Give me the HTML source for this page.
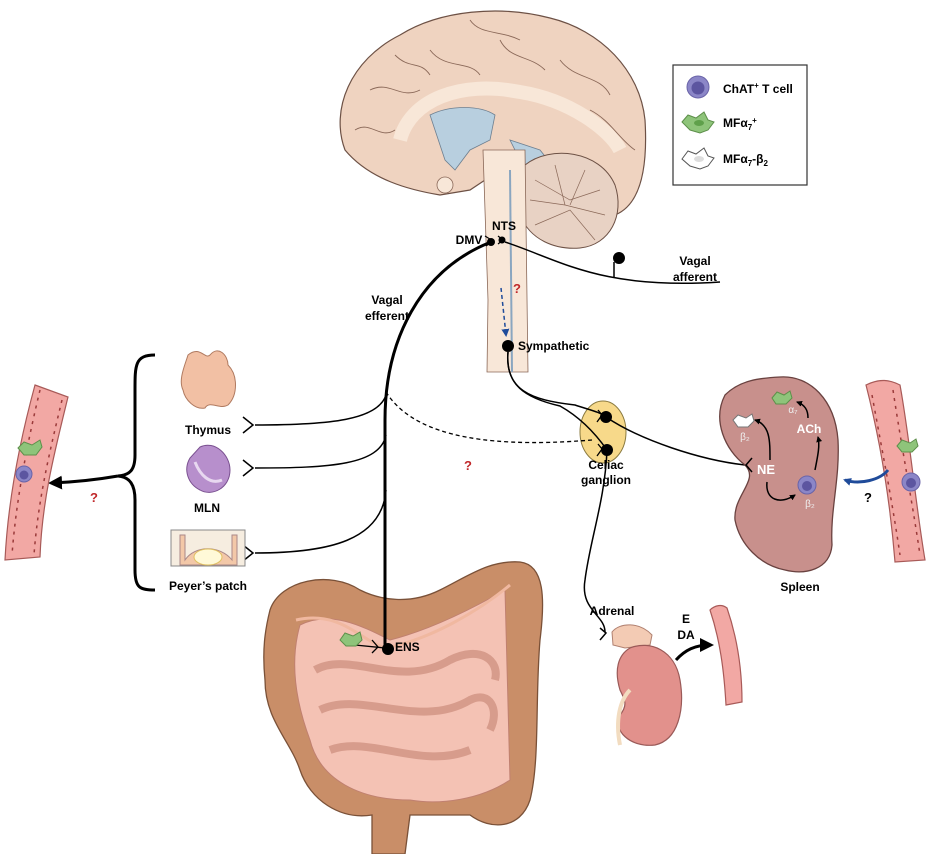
<!DOCTYPE html>
<html><head><meta charset="utf-8"><style>
html,body{margin:0;padding:0;background:#fff;}
svg{display:block;font-family:"Liberation Sans",Arial,sans-serif;font-weight:bold;}
</style></head><body>
<svg width="936" height="854" viewBox="0 0 936 854" xmlns="http://www.w3.org/2000/svg">
<defs>
<marker id="ahb" markerWidth="8" markerHeight="8" refX="6" refY="4" orient="auto" markerUnits="userSpaceOnUse"><path d="M0,0 L8,4 L0,8 Z" fill="#1f4b9a"/></marker>
<marker id="ahs" markerWidth="6" markerHeight="6" refX="5" refY="3" orient="auto" markerUnits="userSpaceOnUse"><path d="M0,0 L6,3 L0,6 Z" fill="#000"/></marker>
<marker id="ahL" markerWidth="14" markerHeight="14" refX="10" refY="7" orient="auto" markerUnits="userSpaceOnUse"><path d="M0,0 L14,7 L0,14 Z" fill="#000"/></marker>
</defs>

<!-- Brain -->
<path d="M345,150 C330,110 350,60 400,35 C440,10 500,5 550,18 C600,30 640,70 645,120 C648,170 640,205 615,215 C600,200 570,190 540,185 L500,170 L470,190 L440,195 C410,190 370,180 345,150 Z" fill="#efd3c0" stroke="#6d5145" stroke-width="1.2"/>
<path d="M400,140 C410,100 460,80 520,92 C570,100 610,130 620,150" fill="none" stroke="#f8e7d8" stroke-width="14"/>
<path d="M430,115 C450,105 480,105 495,115 L490,140 L470,150 L455,170 L445,160 C440,145 435,130 430,115 Z" fill="#b8cfdf" stroke="#6d7f90" stroke-width="0.8"/>
<path d="M510,140 L540,150 L560,175 L540,185 L520,160 Z" fill="#b8cfdf" stroke="#6d7f90" stroke-width="0.8"/>
<g fill="none" stroke="#8a6858" stroke-width="0.9">
<path d="M370,90 C390,80 400,100 420,90"/><path d="M430,50 C445,70 470,60 480,75"/><path d="M500,40 C510,60 530,55 545,70"/><path d="M560,60 C575,80 600,75 610,95"/><path d="M355,130 C370,120 380,140 395,130"/><path d="M590,110 C610,120 620,140 635,150"/><path d="M470,20 C480,35 500,30 520,40"/><path d="M395,55 C410,70 420,60 430,75"/>
</g>
<path d="M525,165 C550,145 600,150 615,185 C625,215 610,245 580,248 C555,250 530,240 520,215 C515,195 515,175 525,165 Z" fill="#e8d2c4" stroke="#6d5145" stroke-width="1"/>
<g fill="none" stroke="#8a6858" stroke-width="0.7">
<path d="M535,180 L570,200 L600,190"/><path d="M530,200 L565,205 L605,215"/><path d="M535,225 L570,210 L595,240"/><path d="M555,165 L565,205"/><path d="M585,170 L570,205"/>
</g>
<path d="M483,150 L525,150 L528,372 L487,372 L488,300 Z" fill="#f8e7d8" stroke="#8a6858" stroke-width="0.8"/>
<path d="M510,170 L512,372" stroke="#8aa6c0" stroke-width="2" fill="none"/>
<circle cx="445" cy="185" r="8" fill="#f8e7d8" stroke="#8a6858" stroke-width="0.8"/>

<!-- Legend -->
<rect x="673" y="65" width="134" height="120" fill="#fff" stroke="#333" stroke-width="1.2"/>
<circle cx="698" cy="87" r="11" fill="#8b86c7" stroke="#6a64a8"/><circle cx="698" cy="88" r="6.5" fill="#5c55a0"/>
<text x="723" y="93" font-size="12">ChAT<tspan font-size="8" dy="-5">+</tspan><tspan dy="5"> T cell</tspan></text>
<path d="M682,122 L688,115 L696,118 L704,112 L708,120 L714,122 L708,130 L700,133 L690,130 Z" fill="#8ec47a" stroke="#5d8f4a"/><ellipse cx="699" cy="123" rx="5" ry="3" fill="#5fa04b"/>
<text x="723" y="127" font-size="12">MFα<tspan font-size="8" dy="3">7</tspan><tspan font-size="8" dy="-7">+</tspan></text>
<path d="M682,159 L688,151 L696,154 L704,148 L708,156 L714,158 L708,166 L700,169 L690,166 Z" fill="#fff" stroke="#555"/><ellipse cx="699" cy="159" rx="5" ry="3" fill="#ddd"/>
<text x="723" y="163" font-size="12">MFα<tspan font-size="8" dy="3">7</tspan><tspan dy="-3">-β</tspan><tspan font-size="8" dy="3">2</tspan></text>

<!-- Intestine (drawn before nerves) -->
<path d="M270,610 C280,580 330,570 360,590 C380,600 410,605 440,590 C470,575 490,560 520,562 C545,565 545,600 540,640 C535,700 540,760 530,800 C520,830 490,830 470,815 L410,815 L405,854 L372,854 L372,815 C340,820 310,800 300,770 C290,740 265,720 265,680 C262,650 265,630 270,610 Z" fill="#c98e68" stroke="#7a5138" stroke-width="1.3"/>
<path d="M300,625 C330,610 360,625 390,640 C430,630 470,610 505,590 L510,780 C480,800 440,805 410,800 C360,800 320,780 310,740 C295,700 290,660 300,625 Z" fill="#f4c2b4" stroke="#c08070" stroke-width="1"/>
<g fill="none" stroke="#c58373" stroke-width="8" opacity="0.6">
<path d="M315,670 C350,650 400,690 450,660 C480,645 500,660 495,680"/>
<path d="M320,710 C360,690 420,730 470,700 C490,690 500,710 490,730"/>
<path d="M330,750 C370,735 420,770 470,750"/>
</g>
<path d="M296,620 C340,610 360,640 385,648 C430,640 480,610 510,585" fill="none" stroke="#f0b8a0" stroke-width="3"/>

<!-- nerves -->
<path d="M491,242 C420,270 385,340 385,420 L385,648" fill="none" stroke="#000" stroke-width="3"/>
<path d="M505,242 C560,260 600,290 720,282" fill="none" stroke="#000" stroke-width="1.5"/>
<path d="M614,278 L614,262" stroke="#000" stroke-width="1.5"/><circle cx="619" cy="258" r="6" fill="#000"/>
<circle cx="491" cy="242" r="4" fill="#000"/><circle cx="502" cy="240" r="3.5" fill="#000"/>
<path d="M485,236 L493,241 L486,246 M498,236 L503,240 L498,244" fill="none" stroke="#000" stroke-width="1.2"/>
<path d="M501,288 L506,335" fill="none" stroke="#1f4b9a" stroke-width="1.5" stroke-dasharray="4,3" marker-end="url(#ahb)"/>
<circle cx="508" cy="346" r="6" fill="#000"/>
<ellipse cx="603" cy="432" rx="23" ry="31" fill="#f7d98a" stroke="#8a7a40" stroke-width="1"/>
<path d="M508,352 C505,390 530,400 575,405 C590,410 600,412 606,417" fill="none" stroke="#000" stroke-width="1.5"/>
<path d="M508,352 C505,385 525,398 560,406 C585,420 600,440 607,450" fill="none" stroke="#000" stroke-width="1.5"/>
<circle cx="606" cy="417" r="6" fill="#000"/><circle cx="607" cy="450" r="6" fill="#000"/>
<path d="M598,410 L602,415 L597,422 M598,444 L602,449 L597,456" fill="none" stroke="#000" stroke-width="1.3"/>
<path d="M606,417 C640,440 700,460 745,465" fill="none" stroke="#000" stroke-width="1.5"/>
<path d="M607,450 C605,500 590,540 585,580 C580,610 605,615 605,632" fill="none" stroke="#000" stroke-width="1.5"/>
<path d="M600,628 L606,633 L600,640" fill="none" stroke="#000" stroke-width="1.5"/>
<path d="M386,392 C410,430 470,450 592,440" fill="none" stroke="#000" stroke-width="1.3" stroke-dasharray="4,3"/>
<path d="M386,395 C378,420 330,425 255,425" fill="none" stroke="#000" stroke-width="1.5"/>
<path d="M386,435 C380,465 330,468 255,468" fill="none" stroke="#000" stroke-width="1.5"/>
<path d="M386,490 C382,540 330,553 255,553" fill="none" stroke="#000" stroke-width="1.5"/>
<path d="M243,417 L253,425 L243,433 M243,460 L253,468 L243,476 M243,545 L253,553 L243,561" fill="none" stroke="#000" stroke-width="1.5"/>
<path d="M355,645 L385,648" stroke="#000" stroke-width="1.3"/><path d="M372,640 L378,647 L372,653" fill="none" stroke="#000" stroke-width="1.3"/>
<circle cx="388" cy="649" r="6" fill="#000"/>
<path d="M340,640 L345,633 L353,636 L360,632 L362,640 L356,646 L346,646 Z" fill="#8ec47a" stroke="#5d8f4a"/>
<text x="395" y="651" font-size="12">ENS</text>

<!-- Thymus -->
<path d="M188,355 C200,345 205,360 210,355 C218,345 228,355 228,365 C238,375 238,395 228,405 C220,410 210,400 205,408 C195,410 185,400 183,390 C178,380 185,365 188,355 Z" fill="#f2c0a4" stroke="#b07a60"/>
<text x="208" y="434" font-size="12" text-anchor="middle">Thymus</text>
<path d="M200,447 C215,440 230,455 230,470 C230,488 212,497 200,490 C188,484 183,470 190,458 Z" fill="#b78fcc" stroke="#7a5090"/>
<path d="M195,462 C200,475 210,485 222,480" fill="none" stroke="#e8d8f0" stroke-width="3"/>
<text x="207" y="512" font-size="12" text-anchor="middle">MLN</text>
<rect x="171" y="530" width="74" height="36" fill="#f6ede0" stroke="#888"/>
<path d="M180,565 L180,535 L185,535 L185,560 C195,545 220,545 232,560 L232,535 L237,535 L237,565 Z" fill="#f3c8a8" stroke="#a88"/>
<ellipse cx="208" cy="557" rx="14" ry="8" fill="#fff9d8" stroke="#e0c060"/>
<text x="208" y="590" font-size="12" text-anchor="middle">Peyer’s patch</text>

<!-- bracket -->
<path d="M155,355 C135,355 135,365 135,390 L135,455 C135,470 130,475 118,476 C130,477 135,485 135,500 L135,570 C135,588 140,590 155,590" fill="none" stroke="#000" stroke-width="3"/>
<path d="M118,476 C95,480 75,482 52,483" fill="none" stroke="#000" stroke-width="3" marker-end="url(#ahL)"/>
<text x="94" y="502" font-size="13" fill="#c0282a" text-anchor="middle">?</text>

<!-- left vessel -->
<path d="M35,385 L68,397 C55,450 42,500 40,557 L5,560 C8,500 20,440 35,385 Z" fill="#f2a8a4" stroke="#a85a58" stroke-width="1.2"/>
<path d="M40,390 C28,440 16,500 12,555 M62,400 C50,450 38,500 34,555" fill="none" stroke="#9a3a3a" stroke-width="1.5" stroke-dasharray="3,5"/>
<path d="M18,448 L24,442 L32,445 L40,440 L42,447 L36,455 L24,455 Z" fill="#8ec47a" stroke="#5d8f4a"/>
<circle cx="24" cy="474" r="8" fill="#8b86c7" stroke="#6a64a8"/><circle cx="24" cy="475" r="4.5" fill="#5c55a0"/>

<!-- labels -->
<text x="469" y="244" font-size="12" text-anchor="middle">DMV</text>
<text x="504" y="230" font-size="12" text-anchor="middle">NTS</text>
<text x="387" y="304" font-size="12" text-anchor="middle">Vagal</text>
<text x="387" y="320" font-size="12" text-anchor="middle">efferent</text>
<text x="695" y="265" font-size="12" text-anchor="middle">Vagal</text>
<text x="695" y="281" font-size="12" text-anchor="middle">afferent</text>
<text x="517" y="293" font-size="13" fill="#c0282a" text-anchor="middle">?</text>
<text x="518" y="350" font-size="12">Sympathetic</text>
<text x="468" y="470" font-size="13" fill="#c0282a" text-anchor="middle">?</text>
<text x="606" y="469" font-size="12" text-anchor="middle">Celiac</text>
<text x="606" y="484" font-size="12" text-anchor="middle">ganglion</text>

<!-- Spleen -->
<path d="M780,377 C810,375 835,400 838,440 C840,480 830,510 832,545 C830,570 805,575 785,570 C760,565 740,545 735,520 C733,495 760,480 745,465 C725,450 712,420 725,395 C740,380 760,378 780,377 Z" fill="#c8908c" stroke="#6a4240" stroke-width="1.3"/>
<path d="M752,458 L746,465 L752,472" fill="none" stroke="#000" stroke-width="1.5"/>
<text x="766" y="474" font-size="13" fill="#fff" text-anchor="middle">NE</text>
<path d="M770,460 C770,440 770,425 755,420" fill="none" stroke="#000" stroke-width="1.5" marker-end="url(#ahs)"/>
<path d="M767,482 C765,500 780,505 795,495" fill="none" stroke="#000" stroke-width="1.5" marker-end="url(#ahs)"/>
<circle cx="807" cy="485" r="9" fill="#8b86c7" stroke="#6a64a8"/><circle cx="807" cy="486" r="5" fill="#5c55a0"/>
<path d="M815,470 C818,455 820,445 818,437" fill="none" stroke="#000" stroke-width="1.5" marker-end="url(#ahs)"/>
<text x="809" y="433" font-size="12" fill="#fff" text-anchor="middle">ACh</text>
<path d="M808,418 C808,410 805,405 797,402" fill="none" stroke="#000" stroke-width="1.5" marker-end="url(#ahs)"/>
<path d="M772,398 L777,392 L784,395 L790,391 L792,398 L786,404 L776,404 Z" fill="#8ec47a" stroke="#5d8f4a"/>
<text x="793" y="413" font-size="10" fill="#eee" text-anchor="middle" font-weight="normal">α₇</text>
<path d="M733,420 L738,415 L746,418 L752,414 L754,421 L748,427 L738,427 Z" fill="#fff" stroke="#777"/>
<text x="745" y="440" font-size="10" fill="#eee" text-anchor="middle" font-weight="normal">β₂</text>
<text x="810" y="507" font-size="10" fill="#eee" text-anchor="middle" font-weight="normal">β₂</text>
<text x="800" y="591" font-size="12" text-anchor="middle">Spleen</text>
<!-- right vessel -->
<path d="M866,385 C880,378 890,380 900,385 C910,440 915,500 925,560 L895,562 C890,500 880,440 866,385 Z" fill="#f2a8a4" stroke="#a85a58" stroke-width="1.2"/>
<path d="M872,395 C882,450 892,500 900,555 M893,390 C902,450 912,500 920,555" fill="none" stroke="#9a3a3a" stroke-width="1.5" stroke-dasharray="3,5"/>
<path d="M897,446 L902,440 L910,443 L916,439 L918,446 L912,452 L902,452 Z" fill="#8ec47a" stroke="#5d8f4a"/>
<circle cx="911" cy="482" r="9" fill="#8b86c7" stroke="#6a64a8"/><circle cx="911" cy="483" r="5" fill="#5c55a0"/>
<path d="M888,470 C880,480 860,485 845,480" fill="none" stroke="#1f4b9a" stroke-width="3" marker-end="url(#ahb)"/>
<text x="868" y="502" font-size="13" text-anchor="middle">?</text>

<!-- Adrenal / kidney -->
<text x="612" y="615" font-size="12" text-anchor="middle">Adrenal</text>
<path d="M612,632 C620,622 640,622 652,635 L650,645 L625,648 L613,645 Z" fill="#f3cbb4" stroke="#b08070"/>
<path d="M630,648 C650,640 675,650 680,680 C685,710 678,740 655,745 C630,748 612,730 620,715 C628,705 625,700 620,690 C614,670 618,655 630,648 Z" fill="#e2918c" stroke="#9a5a58" stroke-width="1.2"/>
<path d="M630,690 C620,700 615,720 620,745" fill="none" stroke="#f2dcc0" stroke-width="4"/>
<text x="686" y="623" font-size="12" text-anchor="middle">E</text>
<text x="686" y="639" font-size="12" text-anchor="middle">DA</text>
<path d="M676,660 C685,650 695,645 710,645" fill="none" stroke="#000" stroke-width="3" marker-end="url(#ahL)"/>
<path d="M710,610 C715,605 722,604 727,608 C738,640 742,670 742,702 L726,705 C724,670 720,640 710,610 Z" fill="#f2a8a4" stroke="#a85a58" stroke-width="1.2"/>
</svg>
</body></html>
